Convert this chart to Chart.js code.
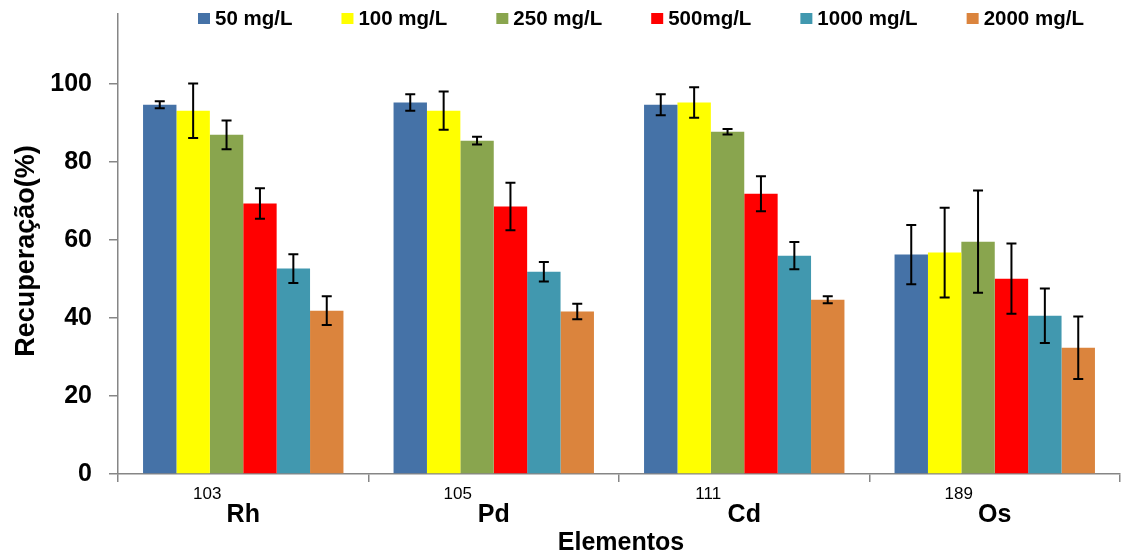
<!DOCTYPE html>
<html>
<head>
<meta charset="utf-8">
<script src="https://cdn.jsdelivr.net/npm/chart.js@4.4.1/dist/chart.umd.min.js"></script>
<style>
  html, body { margin: 0; padding: 0; background: #ffffff; }
  #wrap { width: 1125px; height: 556px; position: relative; }
</style>
</head>
<body>
<div id="wrap"><canvas id="chart" width="1125" height="556"></canvas></div>
<script>
// Categories: element symbols and their mass numbers
const elements = ['Rh', 'Pd', 'Cd', 'Os'];
const massNumbers = ['103', '105', '111', '189'];

// Series (concentration levels)
const seriesLabels = ['50 mg/L', '100 mg/L', '250 mg/L', '500mg/L', '1000 mg/L', '2000 mg/L'];
const seriesColors = ['#4572A7', '#FFFF00', '#89A54E', '#FF0000', '#4198AF', '#DB843D'];

// Recovery (%) per element, and its standard deviation
const rec50   = [94.7, 95.3, 94.7, 56.3];
const err50   = [0.9, 2.1, 2.7, 7.6];
const rec100  = [93.2, 93.2, 95.3, 56.8];
const err100  = [7.0, 4.9, 3.9, 11.5];
const rec250  = [87.0, 85.5, 87.8, 59.6];
const err250  = [3.7, 1.0, 0.7, 13.1];
const rec500  = [69.4, 68.6, 71.9, 50.1];
const err500  = [3.9, 6.1, 4.5, 9.0];
const rec1000 = [52.7, 51.9, 56.0, 40.6];
const err1000 = [3.7, 2.5, 3.5, 7.0];
const rec2000 = [41.9, 41.7, 44.7, 32.4];
const err2000 = [3.7, 2.0, 0.9, 8.0];

const yTicks = [0, 20, 40, 60, 80, 100];
const yMax = 118;

const seriesValues = [rec50, rec100, rec250, rec500, rec1000, rec2000];
const seriesErrors = [err50, err100, err250, err500, err1000, err2000];

const FONT = "'Liberation Sans', Arial, Helvetica, sans-serif";
const AXIS_GREY = '#868686';

// Symmetric error bars drawn on top of every bar
const errorBars = {
  id: 'errorBars',
  afterDatasetsDraw(chart) {
    const ctx = chart.ctx;
    const y = chart.scales.y;
    ctx.save();
    ctx.strokeStyle = '#000000';
    ctx.lineWidth = 2;
    chart.data.datasets.forEach((ds, di) => {
      const meta = chart.getDatasetMeta(di);
      meta.data.forEach((bar, i) => {
        const v = ds.data[i];
        const e = ds.errors[i];
        const top = y.getPixelForValue(v + e);
        const bot = y.getPixelForValue(v - e);
        const cap = 5;
        ctx.beginPath();
        ctx.moveTo(bar.x, top); ctx.lineTo(bar.x, bot);
        ctx.moveTo(bar.x - cap, top); ctx.lineTo(bar.x + cap, top);
        ctx.moveTo(bar.x - cap, bot); ctx.lineTo(bar.x + cap, bot);
        ctx.stroke();
      });
    });
    ctx.restore();
  }
};

// Category labels (mass number + symbol), axis titles and the legend row
const annotations = {
  id: 'annotations',
  afterDraw(chart) {
    const ctx = chart.ctx;
    const x = chart.scales.x;
    ctx.save();
    ctx.fillStyle = '#000000';
    ctx.textBaseline = 'middle';
    ctx.textAlign = 'center';

    elements.forEach((el, i) => {
      const cx = x.getPixelForValue(i);
      ctx.font = `17px ${FONT}`;
      ctx.fillText(massNumbers[i], cx - 36, 494);
      ctx.font = `bold 25px ${FONT}`;
      ctx.fillText(el, cx, 515);
    });

    ctx.font = `bold 25px ${FONT}`;
    ctx.fillText('Elementos', (chart.chartArea.left + chart.chartArea.right) / 2 + 2, 543);

    ctx.save();
    ctx.translate(27, 251);
    ctx.rotate(-Math.PI / 2);
    ctx.font = `bold 27px ${FONT}`;
    ctx.fillText('Recuperação(%)', 0, 0);
    ctx.restore();

    // legend
    ctx.font = `bold 20.5px ${FONT}`;
    ctx.textAlign = 'left';
    let lx = 198;
    chart.data.datasets.forEach((ds) => {
      ctx.fillStyle = ds.backgroundColor;
      ctx.fillRect(lx, 13, 12, 11);
      ctx.fillStyle = '#000000';
      ctx.fillText(ds.label, lx + 17, 19.5);
      lx += 17 + ctx.measureText(ds.label).width + 49;
    });
    ctx.restore();
  }
};

const datasets = seriesLabels.map((label, i) => ({
  label,
  data: seriesValues[i],
  errors: seriesErrors[i],
  backgroundColor: seriesColors[i],
  borderWidth: 0,
  categoryPercentage: 0.8,
  barPercentage: 1.0
}));

new Chart(document.getElementById('chart'), {
  type: 'bar',
  data: { labels: elements, datasets },
  options: {
    responsive: false,
    animation: false,
    layout: { padding: { left: 0, right: 5, top: 14, bottom: 0 } },
    plugins: {
      legend: { display: false },
      tooltip: { enabled: false }
    },
    scales: {
      x: {
        offset: true,
        grid: {
          offset: true,
          drawOnChartArea: false,
          drawTicks: true,
          tickLength: 8,
          color: AXIS_GREY,
          lineWidth: 1.5
        },
        border: { display: true, color: AXIS_GREY, width: 1.5 },
        ticks: { display: false },
        afterFit(scale) {
          scale.height = 82;
          scale.paddingLeft = 0; scale.paddingRight = 0;
        }
      },
      y: {
        min: 0,
        max: yMax,
        afterBuildTicks(scale) { scale.ticks = yTicks.map(v => ({ value: v })); },
        grid: {
          drawOnChartArea: false,
          drawTicks: true,
          tickLength: 9,
          color: AXIS_GREY,
          lineWidth: 1.5
        },
        border: { display: true, color: AXIS_GREY, width: 1.5 },
        ticks: {
          color: '#000000',
          padding: 17,
          font: { family: FONT, size: 25, weight: 'bold' }
        },
        afterFit(scale) {
          scale.width = 118;
          scale.paddingTop = 0; scale.paddingBottom = 0;
        }
      }
    }
  },
  plugins: [errorBars, annotations]
});
</script>
</body>
</html>
